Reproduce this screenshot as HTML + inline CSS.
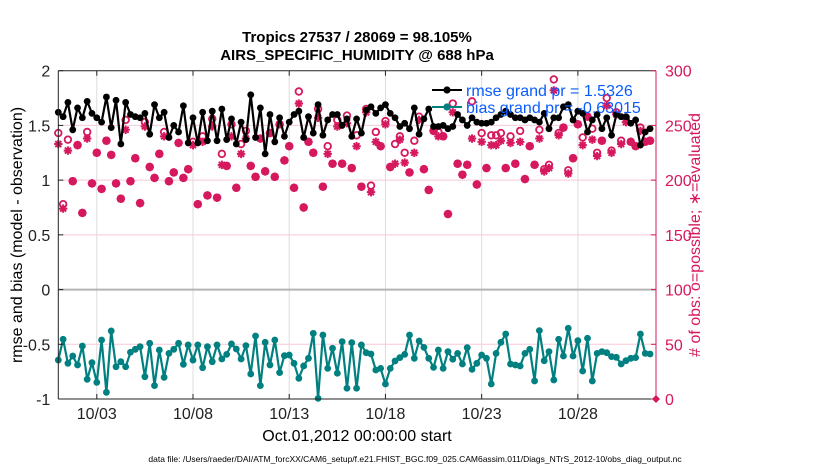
<!DOCTYPE html>
<html><head><meta charset="utf-8"><style>
html,body{margin:0;padding:0;background:#fff;}
svg{display:block;font-family:"Liberation Sans",sans-serif;}
</style></head><body>
<svg id="chart" width="830" height="470" viewBox="0 0 830 470" xmlns="http://www.w3.org/2000/svg">
<g id="grid"></g>
<g id="series"></g>
<g id="axes"></g>
<text x="357" y="42" text-anchor="middle" font-size="15" font-weight="bold">Tropics 27537 / 28069 = 98.105%</text>
<text x="357" y="60" text-anchor="middle" font-size="15" font-weight="bold">AIRS_SPECIFIC_HUMIDITY @ 688 hPa</text>
<text transform="translate(22,235) rotate(-90)" text-anchor="middle" font-size="16">rmse and bias (model - observation)</text>
<text transform="translate(700,235) rotate(-90)" text-anchor="middle" font-size="16" fill="#d6185e">#  of obs: o=possible; ∗=evaluated</text>
<text x="357" y="441" text-anchor="middle" font-size="16">Oct.01,2012 00:00:00 start</text>
<text x="415" y="462" text-anchor="middle" font-size="8.5">data file: /Users/raeder/DAI/ATM_forcXX/CAM6_setup/f.e21.FHIST_BGC.f09_025.CAM6assim.011/Diags_NTrS_2012-10/obs_diag_output.nc</text>
<g>
<line x1="432" y1="90" x2="462" y2="90" stroke="#000" stroke-width="2"/>
<circle cx="447" cy="90" r="3.6" fill="#000"/>
<text x="466" y="96" font-size="16" fill="#0a5cff">rmse grand pr = 1.5326</text>
<line x1="432" y1="107" x2="462" y2="107" stroke="#008080" stroke-width="2"/>
<circle cx="447" cy="107" r="3.6" fill="#008080"/>
<text x="466" y="113" font-size="16" fill="#0a5cff">bias grand pr = -0.63015</text>
</g>
</svg>
<script>
// ---- data (6-hourly, Oct 1 2012 start) ----
const rmse = [1.62,1.58,1.71,1.46,1.66,1.57,1.72,1.61,1.57,1.53,1.76,1.48,1.73,1.33,1.71,1.60,1.58,1.57,1.61,1.42,1.69,1.57,1.62,1.39,1.50,1.44,1.68,1.34,1.57,1.34,1.62,1.36,1.63,1.36,1.65,1.37,1.56,1.33,1.53,1.37,1.78,1.39,1.66,1.24,
1.60,1.35,1.57,1.40,1.53,1.60,1.63,1.39,1.58,1.43,1.69,1.41,1.55,1.60,1.60,1.50,1.56,1.40,1.56,1.43,1.64,1.67,1.61,1.66,1.69,1.61,1.57,1.49,1.52,1.47,1.66,1.42,1.56,1.65,1.49,1.49,1.50,1.47,1.49,1.60,
1.55,1.50,1.57,1.53,1.52,1.52,1.53,1.57,1.60,1.63,1.60,1.57,1.57,1.55,1.57,1.55,1.53,1.61,1.47,1.57,1.57,1.67,1.69,1.55,1.63,1.61,1.44,1.55,1.60,1.47,1.57,1.41,1.60,1.58,1.58,1.52,1.55,1.32,1.44,1.47];
const bias = [-0.644,-0.454,-0.674,-0.607,-0.689,-0.516,-0.820,-0.668,-0.848,-0.461,-0.939,-0.378,-0.705,-0.659,-0.705,-0.573,-0.546,-0.522,-0.796,-0.491,-0.878,-0.552,-0.802,-0.583,-0.546,-0.491,-0.683,-0.506,-0.644,-0.506,-0.714,-0.522,-0.659,-0.506,-0.634,-0.592,-0.497,-0.543,-0.634,-0.512,-0.771,-0.424,-0.878,-0.482,-0.689,-0.461,-0.759,-0.604,-0.598,-0.674,-0.811,-0.698,-0.628,-0.400,-0.994,-0.415,-0.720,-0.537,-0.765,-0.476,-0.902,-0.485,
-0.902,-0.506,-0.577,-0.589,-0.735,-0.720,-0.863,-0.720,-0.653,-0.622,-0.592,-0.415,-0.628,-0.470,-0.528,-0.628,-0.711,-0.552,-0.720,-0.567,-0.637,-0.583,-0.680,-0.531,-0.729,-0.674,-0.598,-0.628,-0.863,-0.583,-0.482,-0.406,-0.680,-0.689,-0.698,-0.583,-0.546,-0.835,-0.375,-0.650,-0.567,-0.826,-0.454,-0.607,-0.354,-0.607,-0.467,-0.744,-0.445,-0.835,-0.583,-0.567,-0.577,-0.613,-0.619,-0.680,-0.650,-0.628,-0.622,-0.406,-0.583,-0.589];
const nEval = [233,174,227,199,232,170,238,197,225,192,236,223,197,183,246,199,220,179,249,212,202,224,240,199,207,234,202,210,232,178,235,186,249,184,214,213,240,193,224,238,213,203,238,208,
243,203,251,218,231,193,270,175,235,225,257,194,224,215,249,215,252,211,231,194,262,189,235,231,251,212,215,237,216,207,225,255,210,191,245,240,240,169,262,215,
205,214,238,196,235,211,232,232,236,211,234,215,235,201,231,214,238,208,211,282,241,248,206,220,251,232,258,237,222,236,268,225,260,233,253,235,231,245,235,236];
const nPoss = [243,178,237,199,232,170,244,197,225,192,236,223,197,183,255,199,220,179,253,212,202,224,244,199,207,234,202,210,235,178,240,186,256,184,224,213,251,193,233,245,213,203,238,208,
243,203,251,218,231,193,281,175,235,225,265,194,231,215,255,215,259,211,241,194,265,195,244,231,254,212,233,240,225,207,236,258,210,191,245,244,240,169,270,215,
205,214,272,196,243,211,241,241,243,211,240,215,245,201,231,214,246,210,214,292,243,248,209,220,251,239,258,247,225,236,275,227,262,236,257,235,231,248,235,236];
const lastObs = [0];
const xTickLabels = ["10/03","10/08","10/13","10/18","10/23","10/28"];
const xTickDays = [2,7,12,17,22,27];
const yLeftTicks = [2,1.5,1,0.5,0,-0.5,-1];
const yRightTicks = [300,250,200,150,100,50,0];

const NS="http://www.w3.org/2000/svg";
const L=58.3,R=656,T=70.7,B=399;
const X0=0,X1=31.06;
const xs=d=>L+(d-X0)/(X1-X0)*(R-L);
const yl=v=>B-(v+1)/3*(B-T);
const yr=v=>B-v/300*(B-T);
function mk(tag,attrs,parent){const e=document.createElementNS(NS,tag);for(const k in attrs)e.setAttribute(k,attrs[k]);parent.appendChild(e);return e;}
const grid=document.getElementById('grid'),ser=document.getElementById('series'),ax=document.getElementById('axes');
const PINK="#d6185e",TEAL="#008080";

// grid
xTickDays.forEach((d,i)=>{
  const g=mk('line',{x1:xs(d),x2:xs(d),y1:T,y2:B,stroke:"#dcdcdc","stroke-width":1},grid);
  
  
});
yRightTicks.forEach(v=>{
  if(v===0||v===300||v===100)return;
  const g=mk('line',{x1:L,x2:R,y1:yr(v),y2:yr(v),stroke:"#f7c9d8","stroke-width":1},grid);
  
  
});
const zl=mk('line',{x1:L,x2:R,y1:yl(0),y2:yl(0),stroke:"#b4b4b4","stroke-width":2},grid);



const day=i=>i*0.25;
// obs counts: possible circles, evaluated stars
nPoss.forEach((v,i)=>{
  const c=mk('circle',{cx:xs(day(i)),cy:yr(v),r:3.3,fill:"none",stroke:PINK,"stroke-width":1.8},ser);
  
  
});
function star(x,y,name){
  const s=4.2,d=3;
  const p=mk('path',{d:`M${x-s},${y}H${x+s}M${x},${y-s}V${y+s}M${x-d},${y-d}L${x+d},${y+d}M${x-d},${y+d}L${x+d},${y-d}`,stroke:PINK,"stroke-width":2,fill:"none"},ser);
  
  
}
nEval.forEach((v,i)=>star(xs(day(i)),yr(v),'evaluated-obs-point'));
lastObs.forEach(v=>{
  const x=xs(X1),y=yr(v);
  const dm=mk('path',{d:`M${x-4},${y}L${x},${y-4}L${x+4},${y}L${x},${y+4}Z`,fill:PINK},ser);
  
  
});

function lineSeries(arr,color,name){
  const pts=arr.map((v,i)=>xs(day(i)).toFixed(1)+","+yl(v).toFixed(1)).join(" ");
  const pl=mk('polyline',{points:pts,fill:"none",stroke:color,"stroke-width":2.2,"stroke-linejoin":"round"},ser);
  
  
  arr.forEach((v,i)=>{
    const c=mk('circle',{cx:xs(day(i)),cy:yl(v),r:3.4,fill:color},ser);
    
    
  });
}
lineSeries(rmse,"#000",'rmse');
lineSeries(bias,TEAL,'bias');

// axes
mk('line',{x1:L,x2:L,y1:T,y2:B,stroke:"#222","stroke-width":1},ax);
mk('line',{x1:L,x2:R,y1:B,y2:B,stroke:"#222","stroke-width":1},ax);
mk('line',{x1:L,x2:R,y1:T,y2:T,stroke:"#222","stroke-width":1},ax);
mk('line',{x1:R,x2:R,y1:T,y2:B,stroke:PINK,"stroke-width":1},ax);
xTickDays.forEach((d,i)=>{
  mk('line',{x1:xs(d),x2:xs(d),y1:B,y2:B-5,stroke:"#222"},ax);
  mk('line',{x1:xs(d),x2:xs(d),y1:T,y2:T+5,stroke:"#222"},ax);
  const t=mk('text',{x:xs(d),y:B+20,"text-anchor":"middle","font-size":16,fill:"#222"},ax);
  t.textContent=xTickLabels[i];
  
  
});
yLeftTicks.forEach(v=>{
  mk('line',{x1:L,x2:L+5,y1:yl(v),y2:yl(v),stroke:"#222"},ax);
  const t=mk('text',{x:L-8,y:yl(v)+6,"text-anchor":"end","font-size":16,fill:"#222"},ax);
  t.textContent=String(v);
  
  
});
yRightTicks.forEach(v=>{
  mk('line',{x1:R-5,x2:R,y1:yr(v),y2:yr(v),stroke:PINK},ax);
  const t=mk('text',{x:R+9,y:yr(v)+6,"text-anchor":"start","font-size":16,fill:PINK},ax);
  t.textContent=String(v);
  
  
});
</script>
</body></html>
